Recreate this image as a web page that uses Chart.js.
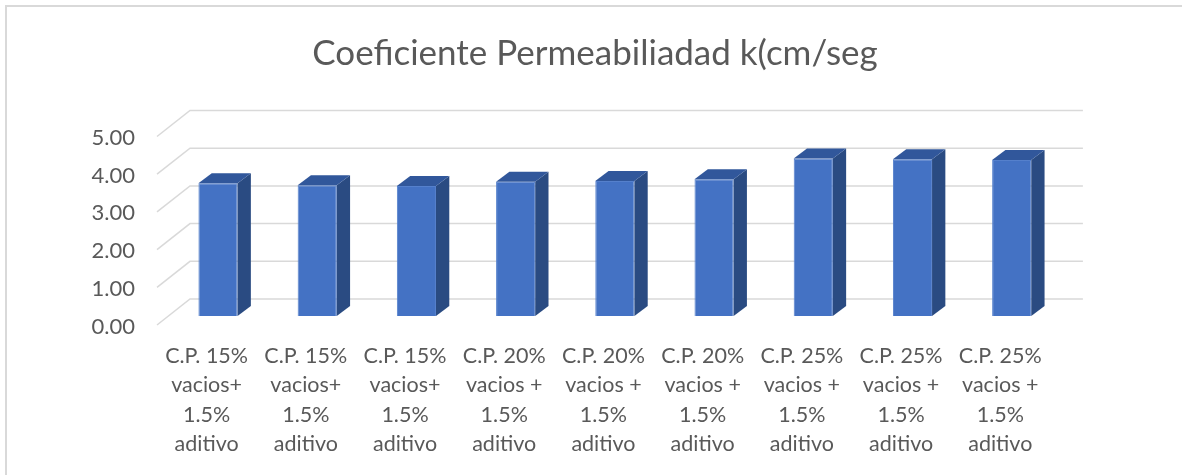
<!DOCTYPE html>
<html>
<head>
<meta charset="utf-8">
<script src="https://cdn.jsdelivr.net/npm/chart.js@4.4.0/dist/chart.umd.min.js"></script>
<style>
html,body{margin:0;padding:0;background:#fff;}
#wrap{position:relative;width:1182px;height:475px;}
</style>
</head>
<body>
<div id="wrap"><canvas id="c" width="1182" height="475"></canvas></div>
<script>
// ---- data ----
const chartTitle = "Coeficiente Permeabiliadad k(cm/seg";
const categories = [
  ["C.P. 15%", "vacios+", "1.5%", "aditivo"],
  ["C.P. 15%", "vacios+", "1.5%", "aditivo"],
  ["C.P. 15%", "vacios+", "1.5%", "aditivo"],
  ["C.P. 20%", "vacios +", "1.5%", "aditivo"],
  ["C.P. 20%", "vacios +", "1.5%", "aditivo"],
  ["C.P. 20%", "vacios +", "1.5%", "aditivo"],
  ["C.P. 25%", "vacios +", "1.5%", "aditivo"],
  ["C.P. 25%", "vacios +", "1.5%", "aditivo"],
  ["C.P. 25%", "vacios +", "1.5%", "aditivo"]
];
const values = [3.52, 3.47, 3.45, 3.56, 3.58, 3.63, 4.18, 4.16, 4.14];
const yTicks = [0, 1, 2, 3, 4, 5];
const yTickLabels = ["0.00", "1.00", "2.00", "3.00", "4.00", "5.00"];

// ---- 3D style offsets (oblique projection) ----
const D = { fx: -11.4, fy: 9, bx: 21.6, by: -17, dx: 13.3, dy: -10 };
const TEXT = '#595959';
const FONT = 'Lato, "Open Sans", sans-serif';

const excel3d = {
  id: 'excel3d',
  beforeDraw(chart) {
    const ctx = chart.ctx;
    ctx.save();
    ctx.fillStyle = '#ffffff';
    ctx.fillRect(0, 0, chart.width, chart.height);
    ctx.strokeStyle = '#d9d9d9';
    ctx.lineWidth = 2;
    ctx.beginPath();
    ctx.moveTo(6, chart.height);
    ctx.lineTo(6, 6);
    ctx.lineTo(chart.width, 6);
    ctx.stroke();
    // title
    ctx.fillStyle = TEXT;
    ctx.font = '400 35px ' + FONT;
    ctx.textAlign = 'center';
    ctx.textBaseline = 'alphabetic';
    ctx.fillText(chartTitle, 595, 65);
    ctx.restore();
  },
  beforeDatasetsDraw(chart) {
    const ctx = chart.ctx, a = chart.chartArea;
    const ys = chart.scales.y, xs = chart.scales.x;
    ctx.save();
    ctx.strokeStyle = '#d9d9d9';
    ctx.lineWidth = 1.5;
    yTicks.forEach((v, i) => {
      const py = ys.getPixelForValue(v);
      ctx.beginPath();
      ctx.moveTo(a.left + D.fx, py + D.fy);
      ctx.lineTo(a.left + D.bx, py + D.by);
      ctx.lineTo(a.right + D.bx, py + D.by);
      ctx.stroke();
      ctx.fillStyle = TEXT;
      ctx.font = '22px ' + FONT;
      ctx.textAlign = 'right';
      ctx.textBaseline = 'alphabetic';
      ctx.fillText(yTickLabels[i], 135, py + D.fy + 8.5);
    });
    ctx.fillStyle = TEXT;
    ctx.font = '21.5px ' + FONT;
    ctx.textAlign = 'center';
    categories.forEach((lines, i) => {
      const cx = xs.getPixelForValue(i) + D.fx;
      lines.forEach((t, j) => {
        ctx.fillText(t, cx, a.bottom + 47 + 29.3 * j);
      });
    });
    ctx.restore();
  },
  afterDatasetsDraw(chart) {
    const ctx = chart.ctx;
    const meta = chart.getDatasetMeta(0);
    ctx.save();
    meta.data.forEach(bar => {
      const p = bar.getProps(['x', 'y', 'base', 'width'], true);
      const l = p.x - p.width / 2, r = p.x + p.width / 2, t = p.y, b = p.base;
      // side face
      ctx.fillStyle = '#2a4b82';
      ctx.beginPath();
      ctx.moveTo(r, t);
      ctx.lineTo(r + D.dx, t + D.dy);
      ctx.lineTo(r + D.dx, b + D.dy);
      ctx.lineTo(r, b);
      ctx.closePath();
      ctx.fill();
      // top face
      ctx.fillStyle = '#31579b';
      ctx.beginPath();
      ctx.moveTo(l, t);
      ctx.lineTo(l + D.dx, t + D.dy);
      ctx.lineTo(r + D.dx, t + D.dy);
      ctx.lineTo(r, t);
      ctx.closePath();
      ctx.fill();
    });
    ctx.restore();
  }
};

new Chart(document.getElementById('c'), {
  type: 'bar',
  data: {
    labels: categories,
    datasets: [{
      data: values,
      backgroundColor: '#4472c4',
      borderColor: '#5580cc',
      borderWidth: 1,
      categoryPercentage: 0.8,
      barPercentage: 0.493
    }]
  },
  options: {
    responsive: false,
    animation: false,
    events: [],
    layout: { padding: { left: 168.4, right: 120.7, top: 127.5, bottom: 159 } },
    plugins: { legend: { display: false }, title: { display: false }, tooltip: { enabled: false } },
    scales: {
      x: { display: false, offset: true },
      y: { display: false, min: 0, max: 5 }
    }
  },
  plugins: [excel3d]
});
</script>
</body>
</html>
